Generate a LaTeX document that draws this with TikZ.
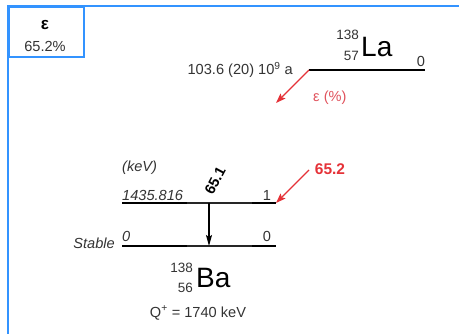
\documentclass[tikz,border=0pt]{standalone}
\usepackage{fontspec}
\setmainfont{Liberation Sans}
\usetikzlibrary{arrows.meta}
\definecolor{frameblue}{HTML}{3393FF}
\definecolor{arrred}{HTML}{E53238}
\definecolor{lblred}{HTML}{E0525C}
\definecolor{txtgray}{HTML}{333333}
\tikzset{
  frame/.style={draw=frameblue, line width=1.8pt},
  thicklvl/.style={line width=2.6pt, black},
  thinlvl/.style={line width=1.3pt, black!85},
  redarrow/.style={draw=arrred, line width=1.4pt, -{Stealth[length=10pt,width=7pt,inset=2pt]}},
  gammaarrow/.style={draw=black, line width=1.4pt, -{Stealth[length=11pt,width=6pt,inset=2pt]}},
  lbl/.style={inner sep=0pt, text=txtgray, font=\fontsize{14.6}{16}\selectfont},
  ilbl/.style={lbl, font=\fontsize{14.6}{16}\selectfont\itshape},
  idx/.style={inner sep=0pt, text=txtgray, font=\fontsize{13.5}{15}\selectfont},
  nuc/.style={inner sep=0pt, text=black, font=\fontsize{28}{30}\selectfont},
}
\begin{document}
\begin{tikzpicture}[x=1pt, y=-1pt]
\useasboundingbox (0,0) rectangle (459,334);
% outer frame
\draw[frame] (8,334) -- (8,6) -- (459,6);
\node[frame, anchor=north west, minimum width=75pt, minimum height=50pt, inner sep=0pt] (epsbox) at (8,6) {};
\node[inner sep=0pt, font=\fontsize{17}{19}\selectfont\bfseries] (epslbl) at (45,25) {ε};
\node[lbl] (epspct) at (45,46) {65.2\%};

% parent La
\coordinate (laL) at (309,70);
\coordinate (laR) at (425,70);
\draw[thicklvl] (laL) -- (laR);
\node[idx, anchor=east] (laA) at (359,35) {138};
\node[idx, anchor=east] (laZ) at (359,56) {57};
\node[nuc, anchor=base west] (la) at (361,57) {La};
\node[lbl] (la0) at (421,61) {0};
\node[lbl, anchor=east] (halflife) at (293,70) {103.6 (20) 10\textsuperscript{9} a};
\coordinate (epsEnd) at (276,103);
\draw[redarrow] (laL) -- (epsEnd);
\node[lbl, text=lblred, anchor=west] (epspc) at (313,98) {ε (\%)};

% daughter levels
\coordinate (l1a) at (122,203);
\coordinate (l1b) at (187,203);
\coordinate (l1c) at (252,203);
\coordinate (l1d) at (276,203);
\coordinate (l0a) at (122,246);
\coordinate (l0b) at (187,246);
\coordinate (l0c) at (252,246);
\coordinate (l0d) at (276,246);
\draw[thinlvl] (l1b) -- (l1c);
\draw[thinlvl] (l0b) -- (l0c);
\draw[thicklvl] (l1a) -- (l1b);
\draw[thicklvl] (l1c) -- (l1d);
\draw[thicklvl] (l0a) -- (l0b);
\draw[thicklvl] (l0c) -- (l0d);

\node[ilbl, anchor=west] (kev) at (122,168) {(keV)};
\node[ilbl, anchor=west] (e1) at (122,195) {1435.816};
\node[lbl] (j1) at (267,195) {1};
\node[ilbl, anchor=west] (e0) at (122,236) {0};
\node[ilbl, anchor=east] (stable) at (115,243) {Stable};
\node[lbl] (j0) at (267,236) {0};

% gamma
\coordinate (gTop) at (209,203);
\coordinate (gBot) at (209,246);
\draw[gammaarrow] (gTop) -- (gBot);
\node[inner sep=0pt, rotate=62, font=\fontsize{14.6}{16}\selectfont\bfseries] (g651) at (215,181) {65.1};

% feeding
\coordinate (feedStart) at (309,170);
\draw[redarrow] (feedStart) -- (l1d);
\node[inner sep=0pt, text=arrred, font=\fontsize{15.5}{17}\selectfont\bfseries] (feed) at (330,169) {65.2};

% Ba label
\node[idx, anchor=east] (baA) at (193,268) {138};
\node[idx, anchor=east] (baZ) at (193,288) {56};
\node[nuc, anchor=base west] (ba) at (196,288) {Ba};
\node[lbl] (q) at (198,313) {Q\textsuperscript{+} = 1740 keV};
\end{tikzpicture}
\end{document}
